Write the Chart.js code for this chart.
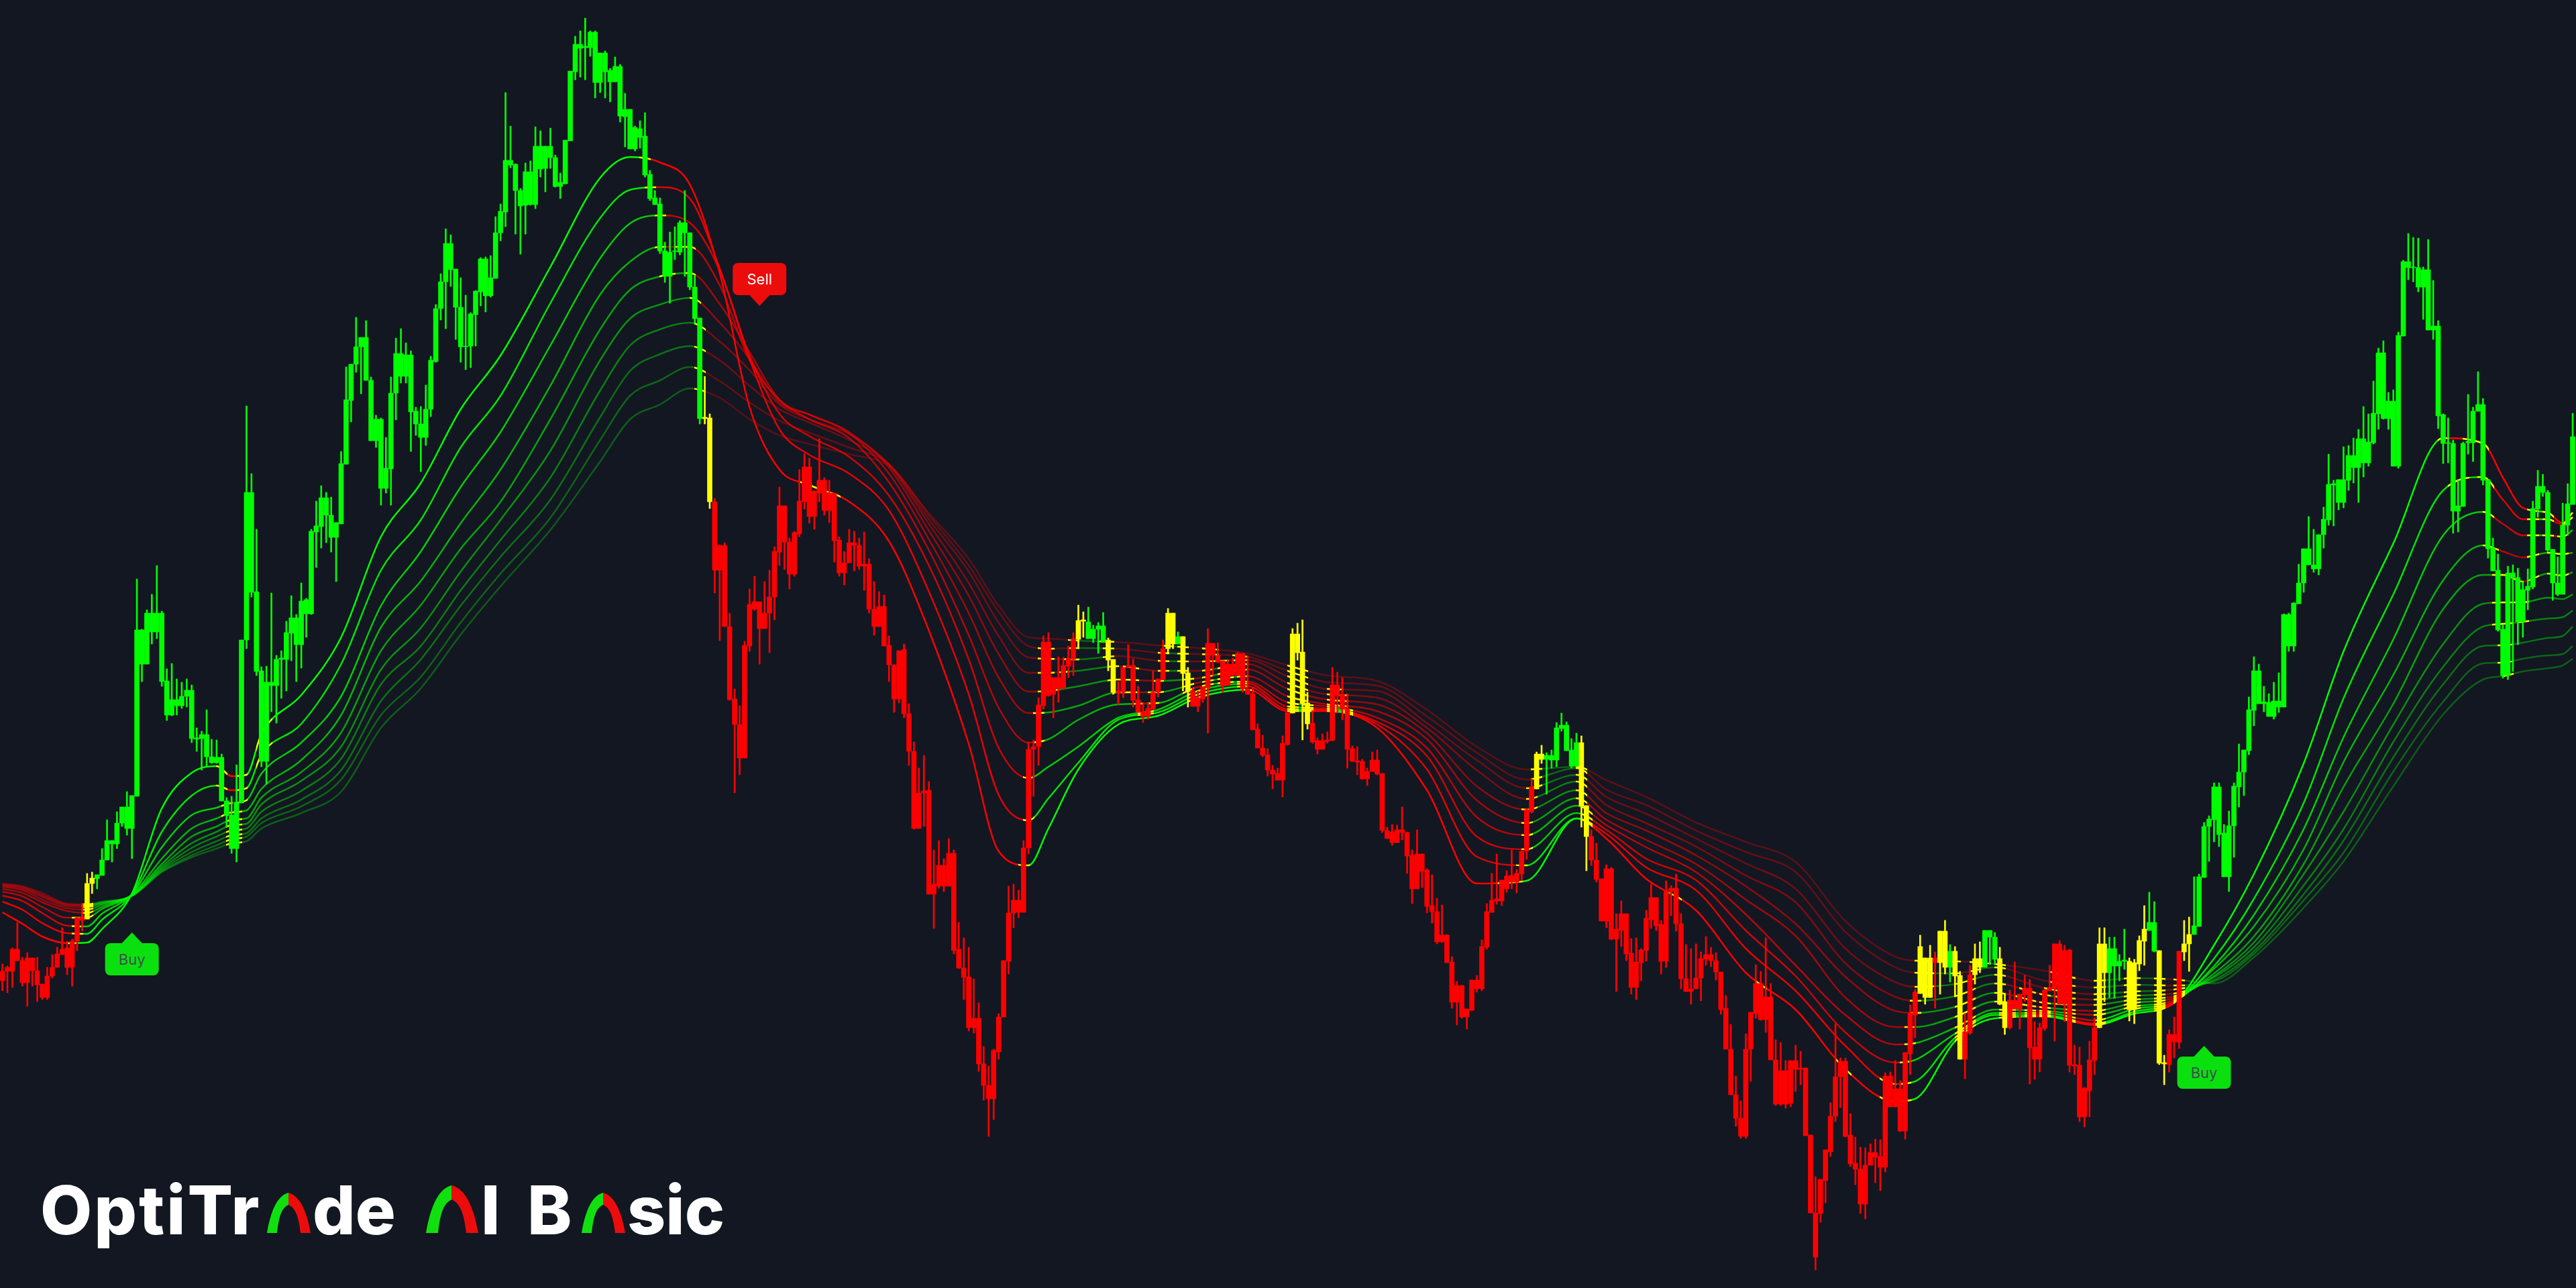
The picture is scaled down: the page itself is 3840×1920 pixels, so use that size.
<!DOCTYPE html>
<html>
<head>
<meta charset="utf-8">
<title>OptiTrade AI Basic</title>
<script src="https://cdn.jsdelivr.net/npm/chart.js@4"></script>
<style>
  html, body { margin: 0; padding: 0; background: #131722; }
  #wrap { position: relative; width: 3840px; height: 1920px; overflow: hidden; }
  #logo span { position: absolute; top: 1744px; font: 800 100px Inter, sans-serif; color: #fff; line-height: 120px; white-space: pre; }
  #logo svg { position: absolute; }
</style>
</head>
<body>
<div id="wrap">
  <canvas id="myChart" width="3840" height="1920"></canvas>
  <div id="logo">
    <span id="w1" style="left:60px;letter-spacing:3px">OptiTr</span>
    <svg style="left:398px;top:1778px" width="65" height="60" viewBox="0 0 65 60"><path fill="#10e010" d="M0 60L15 60C18 32 23 22 32 18L32 0C16 4 6 25 0 60Z"/><path fill="#ec0c0c" d="M65 60L50 60C47 32 41 22 32 18L32 0C48 4 59 25 65 60Z"/></svg>
    <span id="w2" style="left:466px">de</span>
    <svg style="left:635px;top:1767px" width="78" height="71" viewBox="0 0 65 60" preserveAspectRatio="none"><path fill="#10e010" d="M0 60L15 60C18 32 23 22 32 18L32 0C16 4 6 25 0 60Z"/><path fill="#ec0c0c" d="M65 60L50 60C47 32 41 22 32 18L32 0C48 4 59 25 65 60Z"/></svg>
    <span id="w3" style="left:717px">I</span>
    <span id="w4" style="left:786px">B</span>
    <svg style="left:867px;top:1778px" width="65" height="60" viewBox="0 0 65 60"><path fill="#10e010" d="M0 60L15 60C18 32 23 22 32 18L32 0C16 4 6 25 0 60Z"/><path fill="#ec0c0c" d="M65 60L50 60C47 32 41 22 32 18L32 0C48 4 59 25 65 60Z"/></svg>
    <span id="w5" style="left:935px">sic</span>
  </div>
</div>
<script>
const candleTop = [
  1448,1442,1415,1415,1432,1428,1428,1447,1467,1455, 1442,1422,1415,1413,1403,1368,1367,1317,1309,1304,
  1282,1253,1253,1227,1203,1203,1186,939,939,914, 914,914,914,1015,1043,1043,1038,1029,1029,1100,
  1095,1095,1128,1129,1129,1194,1215,1196,954,734, 734,882,1000,1017,1017,983,981,943,921,921,
  896,894,792,784,742,742,768,779,691,596, 543,517,503,503,567,625,625,698,586,527,
  527,529,529,613,632,610,537,460,420,363, 363,401,458,516,468,434,386,386,414,347,
  315,239,239,245,284,256,256,218,218,218, 218,235,272,209,106,66,66,69,48,48,
  79,79,105,99,99,163,163,190,192,203, 260,295,304,374,376,374,332,332,347,428,
  474,622,623,748,813,813,934,1042,1080,962, 901,897,897,914,890,822,754,754,808,794,
  747,696,696,732,716,716,735,735,805,839, 809,809,813,841,841,908,904,904,962,991,
  970,968,1064,1120,1182,1179,1178,1318,1290,1290, 1272,1272,1415,1443,1456,1518,1518,1586,1618,1566,
  1516,1432,1361,1342,1342,1264,1117,1113,1051,957, 957,1010,1010,992,982,952,925,924,927,938,
  933,933,954,983,1030,995,992,992,1043,1061, 1056,1032,1012,967,914,914,949,949,1003,1030,
  1040,1024,959,959,977,985,990,990,974,974, 1027,1034,1087,1115,1125,1148,1153,1108,1062,945,
  945,972,1048,1078,1104,1104,1103,1021,1021,1035, 1056,1116,1134,1135,1150,1133,1133,1153,1238,1240,
  1237,1237,1241,1275,1273,1273,1297,1350,1359,1394, 1394,1434,1469,1469,1504,1461,1461,1411,1359,1342,
  1340,1312,1306,1305,1302,1269,1207,1173,1124,1124, 1126,1126,1085,1081,1081,1118,1107,1107,1201,1247,
  1282,1310,1295,1295,1385,1362,1362,1421,1434,1416, 1369,1338,1338,1378,1329,1324,1324,1377,1459,1474,
  1458,1429,1423,1423,1432,1449,1503,1564,1632,1667, 1564,1509,1466,1466,1486,1486,1580,1596,1596,1581,
  1581,1592,1592,1692,1808,1758,1714,1664,1605,1582, 1582,1692,1734,1743,1737,1718,1718,1724,1604,1604,
  1623,1623,1569,1510,1479,1411,1428,1428,1428,1388, 1388,1418,1418,1454,1538,1453,1429,1429,1387,1387,
  1397,1429,1495,1491,1491,1482,1473,1473,1561,1532, 1476,1472,1407,1407,1417,1416,1587,1588,1622,1580,
  1532,1407,1407,1414,1414,1433,1431,1433,1435,1402, 1385,1375,1375,1417,1584,1542,1542,1418,1407,1393,
  1380,1307,1232,1221,1173,1173,1242,1231,1172,1151, 1118,1058,1000,1000,1046,1047,1045,1045,916,916,
  899,869,818,818,842,797,774,722,721,715, 715,679,679,654,654,659,616,526,526,598,
  598,500,390,390,398,399,402,402,486,486, 618,660,661,754,661,658,613,603,603,715,
  817,850,938,854,854,861,879,874,758,725, 725,734,819,869,783,751,651
];
const candleBottom = [
  1462,1448,1448,1432,1465,1465,1447,1468,1487,1487, 1455,1442,1423,1442,1442,1403,1372,1370,1317,1310,
  1305,1282,1258,1258,1227,1235,1235,1187,990,990, 942,942,1016,1066,1066,1052,1052,1038,1101,1102,
  1101,1128,1137,1137,1194,1216,1265,1265,1197,954, 883,1001,1135,1135,1022,1022,983,983,944,961,
  961,915,915,793,785,768,801,801,781,692, 597,543,517,567,657,657,728,728,699,586,
  561,561,614,632,652,652,610,539,460,420, 402,458,517,517,516,469,435,441,441,415,
  347,316,246,284,307,306,305,305,252,251, 235,278,278,274,210,107,72,71,71,123,
  123,107,122,122,173,174,222,222,205,261, 296,305,374,412,412,375,376,347,428,475,
  624,624,748,850,850,934,1043,1080,1130,1130, 963,908,937,937,914,890,823,808,856,856,
  796,748,770,770,735,761,761,806,854,854, 839,813,844,844,908,934,934,963,991,1042,
  1042,1064,1120,1235,1235,1182,1333,1333,1321,1321, 1321,1417,1443,1457,1532,1532,1586,1618,1638,1638,
  1568,1516,1433,1361,1360,1360,1264,1117,1113,1052, 1037,1035,1026,1026,993,983,953,926,952,952,
  938,957,984,1032,1033,1032,995,1044,1062,1068, 1068,1057,1032,1013,967,960,960,1004,1031,1053,
  1053,1042,1025,977,987,1022,1022,1007,1007,1027, 1035,1088,1115,1126,1148,1154,1163,1163,1110,1063,
  973,1049,1079,1106,1117,1117,1105,1104,1037,1057, 1117,1135,1136,1161,1161,1150,1154,1238,1250,1256,
  1256,1241,1276,1325,1325,1299,1351,1359,1404,1404, 1435,1494,1494,1516,1516,1506,1474,1474,1412,1360,
  1343,1343,1325,1315,1315,1303,1269,1210,1176,1132, 1132,1133,1133,1086,1119,1142,1142,1202,1247,1282,
  1311,1373,1373,1400,1400,1387,1422,1472,1472,1435, 1417,1371,1380,1433,1433,1329,1377,1459,1478,1478,
  1474,1458,1430,1432,1449,1505,1564,1632,1667,1694, 1694,1564,1511,1520,1520,1580,1646,1646,1646,1645,
  1594,1594,1693,1808,1874,1809,1760,1717,1664,1605, 1694,1735,1743,1795,1795,1737,1725,1740,1740,1650,
  1650,1686,1686,1571,1513,1481,1487,1487,1435,1435, 1442,1442,1455,1579,1579,1540,1453,1442,1442,1397,
  1430,1497,1532,1532,1504,1504,1483,1562,1579,1579, 1533,1477,1473,1497,1497,1588,1589,1665,1665,1626,
  1581,1532,1450,1450,1440,1440,1433,1505,1505,1437, 1403,1387,1418,1585,1586,1587,1553,1554,1419,1407,
  1393,1381,1308,1232,1222,1244,1307,1307,1231,1173, 1151,1119,1059,1049,1049,1068,1068,1054,1054,963,
  963,900,869,842,848,848,797,775,723,749, 749,716,697,697,690,690,660,617,624,624,
  695,695,501,399,399,428,428,492,492,620, 661,661,762,762,755,660,660,613,716,818,
  851,939,1007,1007,861,927,927,880,875,759, 734,820,869,886,886,783,752
];
const wickTop = [
  1437,1440,1413,1375,1427,1420,1428,1427,1467,1442, 1423,1412,1383,1403,1400,1367,1347,1302,1300,1304,
  1265,1222,1253,1210,1203,1180,1186,863,938,909, 886,843,911,997,989,1012,1017,1012,1021,1085,
  1090,1058,1102,1103,1124,1189,1187,1140,954,605, 706,789,994,993,884,977,970,926,888,916,
  869,892,789,747,724,734,741,779,673,547, 543,473,503,478,562,619,623,652,562,504,
  490,511,523,607,606,574,531,454,408,341, 350,401,414,440,466,433,384,383,381,323,
  304,138,188,244,281,243,240,189,195,218, 191,231,258,209,106,54,46,27,46,46,
  79,76,102,85,96,139,163,188,180,168, 254,284,295,361,346,338,329,284,347,411,
  474,561,617,743,812,809,914,1027,1052,956, 878,859,897,867,850,815,726,754,802,792,
  700,676,683,732,654,712,716,735,800,822, 789,792,802,793,833,867,882,887,948,991,
  970,960,1049,1106,1145,1126,1165,1267,1253,1280, 1250,1267,1375,1398,1412,1459,1495,1560,1589,1564,
  1511,1432,1321,1318,1327,1253,1106,1103,1040,948, 943,1010,979,980,963,943,902,912,905,932,
  928,913,951,983,1016,995,961,982,1023,1048, 1048,1000,1012,954,907,914,942,949,995,1025,
  1030,1024,937,959,958,985,983,981,972,974, 978,1025,1079,1096,1116,1141,1145,1097,1062,937,
  929,924,1032,1059,1100,1094,1091,995,1002,1010, 1034,1112,1113,1132,1145,1121,1118,1153,1233,1229,
  1230,1203,1240,1267,1237,1273,1295,1304,1339,1349, 1393,1426,1463,1469,1504,1461,1454,1401,1347,1302,
  1273,1312,1298,1267,1296,1268,1205,1161,1121,1111, 1122,1118,1077,1063,1076,1101,1093,1097,1201,1237,
  1257,1310,1289,1293,1362,1343,1362,1399,1398,1414, 1357,1318,1338,1372,1313,1320,1303,1362,1408,1414,
  1407,1419,1396,1412,1420,1449,1484,1527,1604,1641, 1541,1509,1438,1448,1398,1466,1550,1554,1581,1581,
  1558,1567,1592,1692,1754,1758,1714,1644,1526,1577, 1577,1660,1695,1710,1711,1705,1698,1699,1599,1598,
  1581,1611,1569,1498,1475,1394,1428,1409,1419,1388, 1372,1408,1411,1448,1511,1439,1407,1404,1387,1387,
  1390,1412,1482,1476,1434,1482,1454,1460,1523,1525, 1474,1439,1407,1402,1409,1415,1558,1561,1621,1552,
  1517,1383,1383,1397,1397,1423,1385,1428,1430,1395, 1350,1330,1344,1417,1573,1535,1516,1418,1372,1367,
  1307,1303,1226,1216,1167,1167,1229,1209,1167,1109, 1118,1039,979,990,1023,1034,1017,1003,915,914,
  898,841,818,770,789,797,756,677,716,715, 666,664,653,640,606,617,568,519,508,585,
  581,495,388,348,354,355,398,357,418,478, 617,623,656,716,659,588,607,554,594,715,
  802,826,932,844,842,847,867,848,747,701, 707,731,819,830,750,721,616
];
const wickBottom = [
  1477,1480,1472,1432,1470,1500,1470,1493,1490,1490, 1458,1442,1423,1453,1470,1417,1388,1370,1332,1325,
  1305,1282,1285,1265,1232,1245,1280,1187,1016,990, 960,952,1023,1074,1067,1066,1056,1054,1107,1120,
  1148,1143,1138,1138,1194,1233,1272,1285,1197,967, 890,1007,1143,1169,1061,1078,1041,1030,985,1016,
  996,950,916,846,817,809,823,867,781,692, 629,555,587,567,657,667,753,735,753,626,
  571,571,673,649,703,664,621,540,477,490, 427,506,540,551,548,516,456,465,443,415,
  359,338,250,349,379,349,306,311,264,286, 251,279,296,274,210,119,115,119,84,146,
  138,146,152,122,182,219,222,225,221,264, 299,305,378,421,452,387,380,412,432,482,
  632,632,758,884,955,934,1044,1182,1155,1130, 971,910,990,937,973,924,843,849,878,859,
  800,759,780,789,748,768,779,838,859,872, 839,851,849,880,914,947,934,963,1016,1062,
  1048,1070,1141,1236,1235,1232,1333,1384,1324,1329, 1321,1422,1444,1490,1537,1540,1597,1640,1694,1669,
  1579,1516,1452,1383,1368,1360,1273,1187,1141,1057, 1038,1070,1047,1028,1010,1007,967,950,952,958,
  974,958,1000,1035,1050,1040,995,1054,1062,1077, 1072,1057,1039,1013,975,967,960,1030,1054,1053,
  1061,1047,1093,1007,988,1032,1022,1007,1007,1032, 1035,1088,1115,1128,1157,1176,1163,1188,1111,1063,
  984,1103,1087,1108,1124,1117,1108,1104,1063,1073, 1145,1135,1155,1162,1171,1150,1155,1241,1250,1260,
  1256,1252,1302,1347,1325,1323,1361,1376,1407,1405, 1435,1503,1528,1518,1534,1507,1479,1477,1415,1360,
  1348,1350,1330,1325,1331,1313,1281,1212,1176,1138, 1184,1145,1143,1090,1119,1145,1143,1233,1298,1290,
  1315,1373,1383,1401,1478,1411,1432,1482,1490,1462, 1433,1384,1387,1452,1442,1365,1388,1474,1478,1497,
  1474,1492,1439,1441,1461,1512,1564,1632,1679,1697, 1697,1612,1518,1521,1539,1580,1648,1648,1652,1650,
  1627,1617,1693,1808,1893,1822,1793,1724,1672,1651, 1695,1739,1766,1809,1817,1737,1763,1775,1747,1650,
  1650,1687,1698,1602,1547,1481,1497,1487,1503,1482, 1452,1464,1486,1579,1608,1542,1467,1450,1442,1437,
  1438,1498,1542,1534,1504,1534,1493,1616,1609,1598, 1536,1477,1552,1497,1523,1598,1602,1672,1680,1665,
  1602,1532,1493,1487,1488,1462,1445,1522,1526,1447, 1439,1387,1419,1587,1617,1598,1577,1563,1432,1448,
  1393,1381,1308,1284,1255,1262,1307,1329,1278,1203, 1186,1125,1082,1049,1061,1068,1072,1062,1054,971,
  971,900,883,842,853,857,817,783,784,760, 757,731,720,749,711,695,662,640,625,640,
  695,698,501,417,420,435,476,492,506,639, 691,690,795,793,755,677,688,613,723,832,
  851,941,1011,1013,1001,961,950,909,878,771, 740,822,895,888,886,798,752
];
// runs of candle colour: r = bearish, g = bullish, y = undecided
const kindRuns = [
  ['r',17],['y',2],['g',122],['y',2],['r',73],['y',2],['g',4],['y',2],['r',10],['y',2],['g',1],['y',2],
  ['r',20],['y',4],['r',45],['y',2],['g',7],['y',2],['r',66],['y',3],['r',1],['y',2],['g',1],['y',2],
  ['r',2],['y',2],['g',3],['y',2],['r',18],['y',2],['g',4],['y',4],['g',2],['y',2],['r',3],['y',2],['g',77]
];

// ribbon samples, one value per entry of ribbonBars
const ribbonBars = [
  0,4,8,13,17,20,26,32,38,43,46,49,52,60,68,76,84,92,100,110,120,126,132,138,144,150,156,162,170,178,
  186,194,200,206,210,216,224,232,240,250,258,266,276,286,296,306,316,322,330,340,350,360,370,380,384,
  392,400,410,420,428,436,444,452,462,470,480,490,498,502,506,511,514,516
];
const ribbon1 = [1360,1377,1396,1406,1405,1385,1332,1205,1152,1142,1157,1155,1094,1036,950,800,720,610,530,398,265,234,242,275,407,607,700,723,748,807,940,1109,1269,1290,1235,1147,1080,1067,1040,1028,1060,1060,1085,1178,1317,1313,1220,1250,1310,1357,1450,1505,1594,1642,1638,1552,1518,1515,1528,1511,1495,1409,1303,1138,971,810,653,661,712,757,764,780,764];
const ribbon2 = [1344,1356,1376,1391,1392,1371,1333,1240,1186,1171,1178,1175,1125,1079,990,850,775,667,590,452,325,283,279,296,400,535,640,678,706,761,882,1035,1185,1223,1190,1137,1073,1062,1035,1023,1057,1058,1080,1147,1277,1290,1220,1243,1293,1327,1414,1477,1559,1616,1612,1547,1513,1513,1526,1508,1494,1429,1340,1197,1041,886,731,711,745,774,774,782,771];
const ribbon3 = [1335,1343,1361,1380,1381,1362,1333,1263,1215,1204,1197,1193,1153,1107,1038,903,822,726,644,515,385,333,321,332,403,530,617,650,681,739,843,983,1115,1160,1143,1113,1070,1058,1030,1019,1053,1056,1076,1127,1247,1266,1212,1237,1280,1312,1387,1455,1539,1584,1580,1541,1510,1510,1521,1504,1493,1440,1364,1236,1099,953,798,763,781,798,798,800,790];
const ribbon4 = [1329,1336,1352,1368,1368,1355,1334,1280,1235,1220,1211,1208,1176,1133,1066,935,866,780,700,575,439,390,368,368,425,537,596,625,653,719,820,947,1055,1107,1102,1073,1050,1048,1024,1016,1047,1053,1070,1115,1218,1245,1201,1230,1263,1300,1363,1439,1513,1557,1555,1532,1505,1507,1513,1500,1491,1444,1381,1266,1136,1006,865,813,822,831,824,826,824];
const ribbon5 = [1325,1331,1345,1358,1361,1352,1334,1288,1247,1232,1222,1220,1189,1151,1092,970,902,818,748,625,491,432,412,407,453,525,596,618,646,706,804,914,1010,1063,1062,1052,1032,1032,1018,1008,1038,1050,1060,1102,1193,1227,1190,1222,1252,1288,1341,1395,1487,1531,1531,1516,1493,1502,1507,1495,1488,1451,1396,1288,1173,1049,908,857,857,867,855,858,853];
const ribbon6 = [1322,1327,1341,1354,1356,1349,1335,1292,1257,1240,1230,1228,1199,1164,1113,998,936,852,775,672,537,475,454,444,481,535,600,618,644,697,791,888,975,1031,1030,1023,1013,1015,1011,998,1027,1043,1050,1093,1172,1207,1178,1212,1238,1275,1321,1377,1456,1507,1510,1501,1480,1495,1498,1490,1485,1455,1405,1303,1210,1080,960,900,898,898,891,893,886];
const ribbon7 = [1320,1325,1337,1351,1352,1347,1335,1295,1264,1247,1238,1235,1210,1179,1131,1020,963,880,805,712,582,515,491,481,509,552,603,625,647,693,781,869,948,1003,1003,1000,993,1000,1000,990,1018,1035,1040,1085,1148,1191,1165,1200,1227,1262,1305,1345,1436,1486,1492,1485,1466,1483,1490,1484,1481,1457,1412,1320,1236,1106,994,934,930,927,922,920,910];
const ribbon8 = [1319,1323,1335,1349,1350,1346,1335,1297,1270,1254,1245,1242,1220,1192,1148,1045,983,903,830,745,622,553,528,516,537,575,610,630,656,692,774,852,928,980,982,983,978,985,986,984,1008,1027,1030,1078,1133,1175,1155,1188,1213,1250,1287,1325,1414,1464,1471,1467,1453,1473,1482,1478,1475,1461,1418,1333,1253,1129,1020,963,962,958,951,948,934];
const ribbon9 = [1318,1322,1333,1348,1349,1345,1336,1299,1275,1260,1251,1247,1227,1202,1162,1066,1009,928,855,772,656,590,567,547,568,600,627,645,667,692,768,843,912,963,967,966,967,973,975,979,1000,1017,1022,1068,1122,1162,1145,1177,1200,1238,1270,1300,1389,1442,1450,1451,1442,1462,1472,1468,1469,1463,1422,1342,1271,1150,1046,989,988,982,977,975,963];
const ribbon10 = [1317,1321,1331,1347,1348,1344,1336,1300,1278,1265,1257,1254,1235,1212,1180,1085,1026,946,874,790,688,625,603,579,593,625,649,662,677,695,765,833,903,950,952,955,957,962,966,974,992,1007,1015,1058,1113,1147,1143,1163,1188,1226,1255,1285,1373,1426,1432,1433,1437,1447,1462,1458,1460,1466,1427,1353,1284,1172,1065,1013,1008,1001,996,992,982];
const ribbons = [ribbon1, ribbon2, ribbon3, ribbon4, ribbon5, ribbon6, ribbon7, ribbon8, ribbon9, ribbon10];
const ribbonAlpha = [1, 0.88, 0.78, 0.68, 0.6, 0.52, 0.45, 0.39, 0.34, 0.3];

const signalLabels = ['Buy', 'Sell', 'Buy'];
const signalBars = [26, 152, 442];
const signalLevels = [1390, 456, 1559];

const barMin = -0.485;
const barMax = 516.67;
const candleColors = { r: '#ff0000', g: '#00ff00', y: '#ffff00' };

const candleKinds = [];
for (const run of kindRuns) {
  for (let i = 0; i < run[1]; i++) {
    candleKinds.push(run[0]);
  }
}

// where the ribbon sits at a bar, only used to choose its colour there
function ribbonLevelAt(values, bar) {
  let k = 0;
  while (k < ribbonBars.length - 2 && ribbonBars[k + 1] <= bar) {
    k++;
  }
  const t = (bar - ribbonBars[k]) / (ribbonBars[k + 1] - ribbonBars[k]);
  return values[k] + (values[k + 1] - values[k]) * t;
}

// green while the candle body is above the ribbon, red while below,
// yellow where the body crosses it. state per tenth of a bar
function ribbonStates(values) {
  const steps = 10;
  const states = [];
  for (let bar = 0; bar < candleKinds.length; bar++) {
    const level = ribbonLevelAt(values, bar);
    let state = 'y';
    if (candleBottom[bar] < level) state = 'g';
    if (candleTop[bar] > level) state = 'r';
    for (let s = 0; s < steps; s++) {
      states.push(state);
    }
  }
  const out = states.slice();
  for (let i = 0; i < states.length; i += steps) {
    if (states[i] == 'y') {
      for (let n = i + 5 - 11; n <= i + 5 + 11; n++) {
        if (n >= 0 && n < out.length) out[n] = 'y';
      }
    }
  }
  return out;
}

function ribbonGradient(canvasCtx, values, alpha) {
  const colors = {
    r: 'rgba(255,0,0,' + alpha + ')',
    g: 'rgba(0,255,0,' + alpha + ')',
    y: 'rgba(255,255,0,1)'
  };
  const gradient = canvasCtx.createLinearGradient(0, 0, 3840, 0);
  const states = ribbonStates(values);
  let start = 0;
  for (let i = 1; i <= states.length; i++) {
    if (i == states.length || states[i] != states[start]) {
      const from = Math.max(0, (start / 10 - 0.5 - barMin) / (barMax - barMin));
      const to = Math.min(1, (i / 10 - 0.5 - barMin) / (barMax - barMin));
      gradient.addColorStop(from, colors[states[start]]);
      gradient.addColorStop(to, colors[states[start]]);
      start = i;
    }
  }
  return gradient;
}

const signalPlugin = {
  id: 'signals',
  afterDraw(chart) {
    const ctx = chart.ctx;
    const x = chart.scales.x;
    const y = chart.scales.y;
    ctx.save();
    ctx.textAlign = 'center';
    ctx.textBaseline = 'middle';
    ctx.font = '22px Inter, sans-serif';
    for (let i = 0; i < signalLabels.length; i++) {
      const isBuy = signalLabels[i] == 'Buy';
      const tipX = x.getPixelForValue(signalBars[i]);
      const tipY = y.getPixelForValue(signalLevels[i]);
      const dir = isBuy ? 1 : -1;
      const boxTop = isBuy ? tipY + 16 : tipY - 64;
      ctx.fillStyle = isBuy ? '#0be00f' : '#ec0c0c';
      ctx.beginPath();
      ctx.moveTo(tipX, tipY);
      ctx.lineTo(tipX + 15, tipY + dir * 16);
      ctx.lineTo(tipX - 15, tipY + dir * 16);
      ctx.closePath();
      ctx.fill();
      ctx.beginPath();
      ctx.roundRect(tipX - 40, boxTop, 80, 48, 8);
      ctx.fill();
      ctx.fillStyle = isBuy ? '#3d4a4e' : '#ffffff';
      ctx.fillText(signalLabels[i], tipX, boxTop + 25);
    }
    ctx.restore();
  }
};

function chartOnLoad() {
  const canvas = document.getElementById('myChart');
  const canvasCtx = canvas.getContext('2d');
  const barColors = candleKinds.map(k => candleColors[k]);

  const datasets = [];
  datasets.push({
    type: 'bar',
    order: 1,
    grouped: false,
    barThickness: 7,
    backgroundColor: barColors,
    borderWidth: 0,
    data: candleTop.map((v, i) => ({ x: i, y: [v, candleBottom[i]] }))
  });
  datasets.push({
    type: 'bar',
    order: 2,
    grouped: false,
    barThickness: 2,
    backgroundColor: barColors,
    borderWidth: 0,
    data: wickTop.map((v, i) => ({ x: i, y: [v, wickBottom[i]] }))
  });
  for (let r = 0; r < ribbons.length; r++) {
    datasets.push({
      type: 'line',
      order: 3 + r,
      borderColor: ribbonGradient(canvasCtx, ribbons[r], ribbonAlpha[r]),
      borderWidth: 2.5,
      pointRadius: 0,
      cubicInterpolationMode: 'monotone',
      data: ribbons[r].map((v, i) => ({ x: ribbonBars[i], y: v }))
    });
  }

  new Chart(canvas, {
    data: { datasets: datasets },
    options: {
      responsive: false,
      animation: false,
      devicePixelRatio: 1,
      layout: { padding: 0 },
      plugins: { legend: { display: false }, tooltip: { enabled: false } },
      scales: {
        x: { type: 'linear', display: false, offset: false, min: barMin, max: barMax },
        y: { type: 'linear', display: false, reverse: true, min: 0, max: 1920 }
      }
    },
    plugins: [signalPlugin]
  });
}

window.onload = chartOnLoad;
</script>
</body>
</html>
